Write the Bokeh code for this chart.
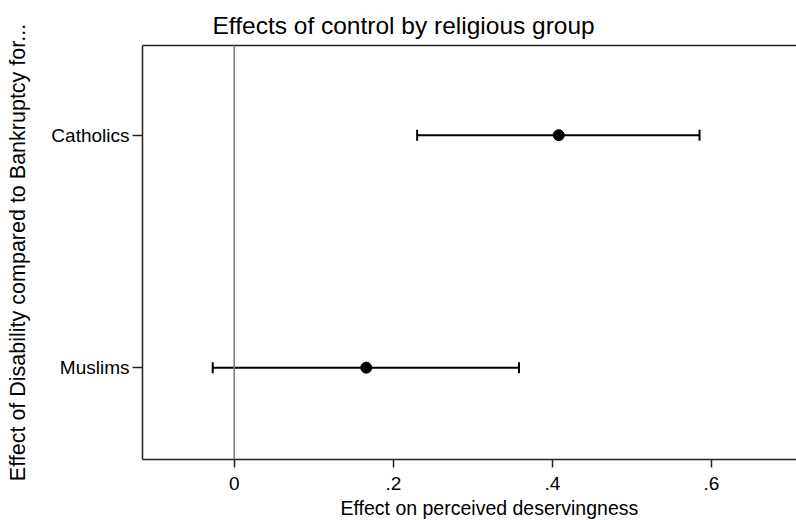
from bokeh.plotting import figure
from bokeh.models import Range1d, FixedTicker, LinearAxis, Span, Title, ColumnDataSource
from bokeh.embed import file_html
from bokeh.resources import INLINE

groups = ["Catholics", "Muslims"]
ypos = [2, 1]
estimate = [0.408, 0.166]
lower = [0.230, -0.027]
upper = [0.585, 0.358]
xticks = [0, 0.2, 0.4, 0.6]
xtick_labels = ["0", ".2", ".4", ".6"]

FONT = "Liberation Sans"

p = figure(width=796, height=520, output_backend="svg", toolbar_location=None,
           x_range=Range1d(-0.1153, 0.7069), y_range=Range1d(0.605, 2.386),
           min_border_left=142, min_border_right=0, min_border_top=45, min_border_bottom=61)
p.outline_line_color = None
p.background_fill_color = "white"
p.border_fill_color = "white"
p.grid.visible = False

src = ColumnDataSource(dict(y=ypos, est=estimate, lo=lower, hi=upper))

p.add_layout(Span(location=0, dimension="height", line_color="#777777", line_width=1.5))

p.segment(x0="lo", x1="hi", y0="y", y1="y", source=src, line_color="black", line_width=2)
p.scatter(x="lo", y="y", source=src, marker="dash", angle=1.5708, size=11,
          line_color="black", line_width=2)
p.scatter(x="hi", y="y", source=src, marker="dash", angle=1.5708, size=11,
          line_color="black", line_width=2)
p.scatter(x="est", y="y", source=src, marker="circle", size=11,
          fill_color="black", line_color="black")

# x axis
xa = p.xaxis[0]
xa.ticker = FixedTicker(ticks=xticks)
xa.major_label_overrides = {t: l for t, l in zip(xticks, xtick_labels)}
xa.minor_tick_line_color = None
xa.major_tick_out = 8
xa.major_tick_in = 0
xa.axis_line_color = "#222222"
xa.axis_line_width = 1.5
xa.major_tick_line_color = "#222222"
xa.major_tick_line_width = 1.5
xa.major_label_text_font = FONT
xa.major_label_text_font_size = "19px"
xa.major_label_text_color = "black"
xa.major_label_standoff = 9

# y axis
ya = p.yaxis[0]
ya.ticker = FixedTicker(ticks=ypos)
ya.major_label_overrides = {y: g for y, g in zip(ypos, groups)}
ya.minor_tick_line_color = None
ya.major_tick_out = 10
ya.major_tick_in = 0
ya.axis_line_color = "#222222"
ya.axis_line_width = 1.5
ya.major_tick_line_color = "#222222"
ya.major_tick_line_width = 1.5
ya.major_label_text_font = FONT
ya.major_label_text_font_size = "19px"
ya.major_label_text_color = "black"
ya.major_label_standoff = 3
ya.axis_label = "Effect of Disability compared to Bankruptcy for..."
ya.axis_label_text_font = FONT
ya.axis_label_text_font_size = "21.5px"
ya.axis_label_text_font_style = "normal"
ya.axis_label_text_color = "black"
ya.axis_label_standoff = 18

# top border line
top = LinearAxis(ticker=FixedTicker(ticks=[]), major_label_text_font_size="0px",
                 axis_line_color="#222222", axis_line_width=1.5,
                 major_tick_line_color=None, minor_tick_line_color=None)
p.add_layout(top, "above")

# x axis label (as below title so it can be offset like the original)
p.add_layout(Title(text="Effect on perceived deservingness", align="left", offset=198,
                   text_font=FONT, text_font_size="19.5px", text_font_style="normal",
                   text_color="black", standoff=4), "below")

p.add_layout(Title(text="Effects of control by religious group", align="left", offset=70,
                   text_font=FONT, text_font_size="24.5px", text_font_style="normal",
                   text_color="black", standoff=14), "above")

open("out.html", "w").write(file_html(p, INLINE))
